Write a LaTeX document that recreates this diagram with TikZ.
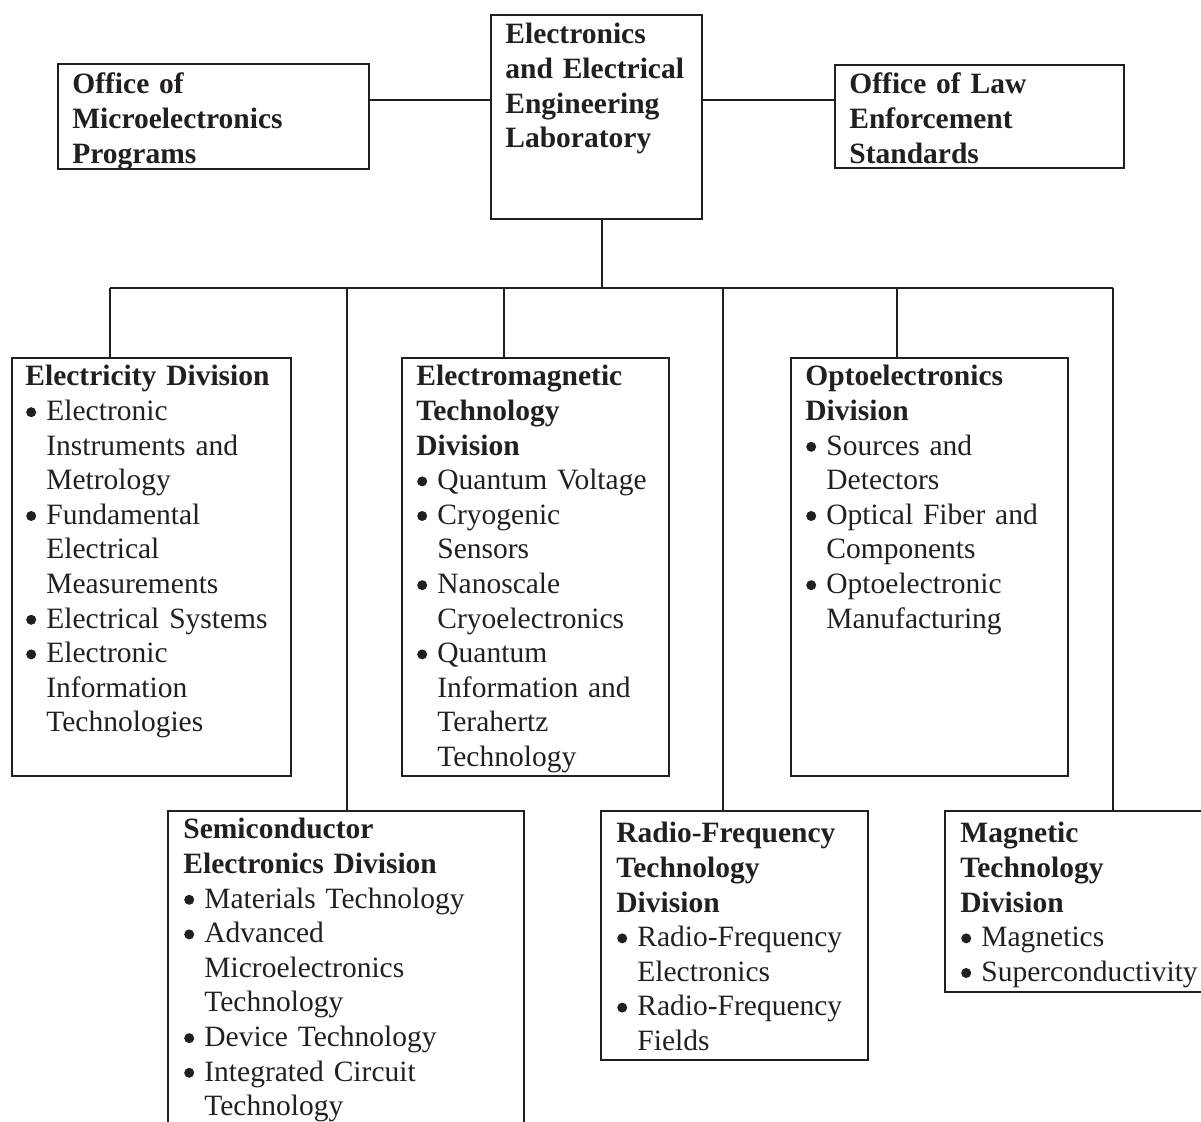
\documentclass[tikz,border=0pt]{standalone}
\usepackage{fontspec}
\setmainfont{Liberation Serif}
\usetikzlibrary{fit}
\definecolor{ink}{RGB}{35,31,32}
\newsavebox\bulbox
\newcommand\bi{\makebox[10.5pt][l]{\hspace{0.4pt}\raisebox{1.7pt}{\usebox\bulbox}}}
\newcommand\ci{\hspace*{10.5pt}}
\begin{document}
\sbox\bulbox{\begin{pgfpicture}\pgfsetfillcolor{ink}\pgfpathcircle{\pgfpoint{0pt}{0pt}}{2.5pt}\pgfusepath{fill}\end{pgfpicture}}
\begin{tikzpicture}[x=0.5pt,y=-0.5pt,
  box/.style={draw=ink, line width=1.15pt, inner sep=0pt, rectangle},
  wire/.style={draw=ink, line width=1.15pt},
  txt/.style={anchor=base west, inner sep=0pt, text=ink, text width=300pt, align=left,
    font=\fontsize{14.75pt}{17.3pt}\selectfont},
  head/.style={txt, font=\fontsize{14.75pt}{17.3pt}\selectfont\bfseries}]
\useasboundingbox (0,0) rectangle (1201,1122);
\clip (0,0) rectangle (1201,1122);

% top row
\node[box, fit={(58,64) (369,169)}] (ome) {};
\node[box, fit={(491,15) (702,219)}] (eeel) {};
\node[box, fit={(835,65) (1124,168)}] (olaw) {};
\node[head] (omeT) at (72,94) {Office of\\Microelectronics\\Programs};
\node[head] (eeelT) at (505,44) {Electronics\\and Electrical\\Engineering\\Laboratory};
\node[head] (olawT) at (849,94) {Office of Law\\Enforcement\\Standards};

% divisions, upper row
\node[box, fit={(12,358) (291,776)}] (elec) {};
\node[box, fit={(402,358) (669,776)}] (emtd) {};
\node[box, fit={(791,358) (1068,776)}] (opto) {};
\node[txt] (elecT) at (25,386) {\textbf{Electricity Division}\\
\bi Electronic\\
\ci Instruments and\\
\ci Metrology\\
\bi Fundamental\\
\ci Electrical\\
\ci Measurements\\
\bi Electrical Systems\\
\bi Electronic\\
\ci Information\\
\ci Technologies};
\node[txt] (emtdT) at (416,386) {\textbf{Electromagnetic}\\
\textbf{Technology}\\
\textbf{Division}\\
\bi Quantum Voltage\\
\bi Cryogenic\\
\ci Sensors\\
\bi Nanoscale\\
\ci Cryoelectronics\\
\bi Quantum\\
\ci Information and\\
\ci Terahertz\\
\ci Technology};
\node[txt] (optoT) at (805,386) {\textbf{Optoelectronics}\\
\textbf{Division}\\
\bi Sources and\\
\ci Detectors\\
\bi Optical Fiber and\\
\ci Components\\
\bi Optoelectronic\\
\ci Manufacturing};

% divisions, lower row
\node[box, fit={(168,811) (524,1160)}] (semi) {};
\node[box, fit={(601,811) (868,1060)}] (rftd) {};
\node[box, fit={(945,811) (1215,992)}] (magn) {};
\node[txt] (semiT) at (183,839) {\textbf{Semiconductor}\\
\textbf{Electronics Division}\\
\bi Materials Technology\\
\bi Advanced\\
\ci Microelectronics\\
\ci Technology\\
\bi Device Technology\\
\bi Integrated Circuit\\
\ci Technology};
\node[txt] (rftdT) at (616,843) {\textbf{Radio-Frequency}\\
\textbf{Technology}\\
\textbf{Division}\\
\bi Radio-Frequency\\
\ci Electronics\\
\bi Radio-Frequency\\
\ci Fields};
\node[txt] (magnT) at (960,843) {\textbf{Magnetic}\\
\textbf{Technology}\\
\textbf{Division}\\
\bi Magnetics\\
\bi Superconductivity};

% connectors
\coordinate (tl) at (0,100);
\draw[wire] (ome.east |- tl) -- (eeel.west |- tl);
\draw[wire] (eeel.east |- tl) -- (olaw.west |- tl);

\coordinate (hub) at (602,288);
\coordinate (dElec) at (110,288);
\coordinate (dSemi) at (347,288);
\coordinate (dEM) at (504,288);
\coordinate (dRF) at (723,288);
\coordinate (dOpto) at (897,288);
\coordinate (dMag) at (1113,288);
\draw[wire] (hub |- eeel.south) -- (hub);
\draw[wire] (dElec) -- (dMag);
\draw[wire] (dElec) -- (dElec |- elec.north);
\draw[wire] (dSemi) -- (dSemi |- semi.north);
\draw[wire] (dEM) -- (dEM |- emtd.north);
\draw[wire] (dRF) -- (dRF |- rftd.north);
\draw[wire] (dOpto) -- (dOpto |- opto.north);
\draw[wire] (dMag) -- (dMag |- magn.north);
\end{tikzpicture}
\end{document}
